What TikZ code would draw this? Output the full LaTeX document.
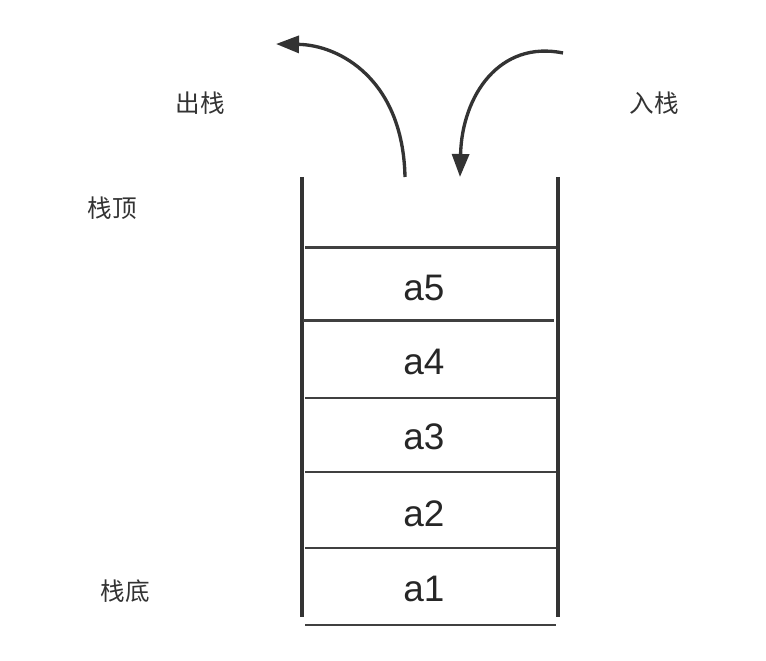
\documentclass[tikz,border=0pt]{standalone}
\usepackage{fontspec}
\setmainfont{Liberation Sans}
\newfontfamily\cjk{Noto Sans CJK SC}
\usetikzlibrary{arrows.meta}

\begin{document}
\begin{tikzpicture}[line width=1.4pt,>={Triangle[length=4.6mm,width=3.4mm]},
  wall/.style={black!80,line width=2.0pt},
  slot/.style={black!75,line width=1.7pt},
  elem/.style={font=\fontsize{21}{21}\selectfont,text=black!85},
  lbl/.style={font=\cjk\fontsize{14}{14}\selectfont,text=black!80}]
  \useasboundingbox (0,0) rectangle (15.32,13.22);
  % paredes de la pila
  \draw[wall] (6.04,9.68)--(6.04,0.88);
  \draw[wall] (11.16,9.68)--(11.16,0.88);
  % separaciones
  \draw[slot] (6.1,8.26)--(11.12,8.26);
  \draw[slot] (6.06,6.80)--(11.08,6.80);
  \draw[slot] (6.1,5.26)--(11.12,5.26);
  \draw[slot] (6.1,3.78)--(11.12,3.78);
  \draw[slot] (6.1,2.26)--(11.12,2.26);
  \draw[slot] (6.1,0.72)--(11.12,0.72);
  % elementos
  \node[elem] (a5) at (8.48,7.46){a5};
  \node[elem] (a4) at (8.48,5.98){a4};
  \node[elem] (a3) at (8.48,4.48){a3};
  \node[elem] (a2) at (8.48,2.94){a2};
  \node[elem] (a1) at (8.48,1.44){a1};
  % etiquetas
  \node[lbl] (pop) at (4.0,11.16){出栈};
  \node[lbl] (push) at (13.08,11.16){入栈};
  \node[lbl] (top) at (2.24,9.06){栈顶};
  \node[lbl] (bottom) at (2.5,1.40){栈底};
  % flechas (salida izq., entrada der.)
  \coordinate (popfrom) at (8.1,9.68); \coordinate (popto) at (5.52,12.34);
  \coordinate (pushfrom) at (11.26,12.16); \coordinate (pushto) at (9.2,9.68);
  \draw[->,black!80,line width=1.9pt] (popfrom) .. controls (8.06,11.62) and (6.8,12.32) .. (popto);
  \draw[->,black!80,line width=1.9pt] (pushfrom) .. controls (10.0,12.42) and (9.24,11.32) .. (pushto);
\end{tikzpicture}
\end{document}
